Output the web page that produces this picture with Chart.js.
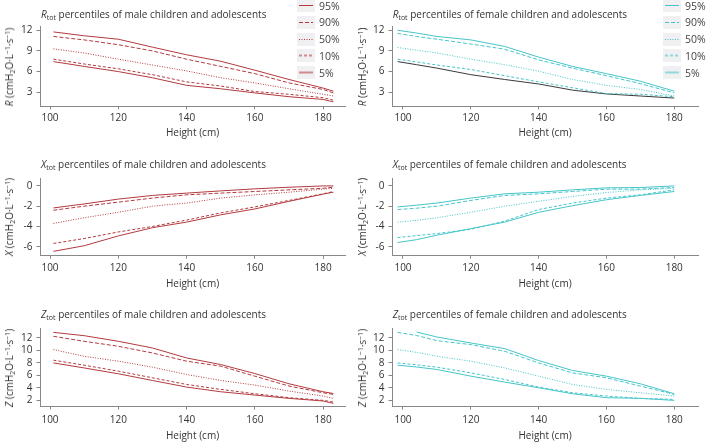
<!DOCTYPE html>
<html>
<head>
<meta charset="utf-8">
<script src="https://cdn.jsdelivr.net/npm/chart.js@4"></script>
<style>
  body { margin: 0; width: 706px; height: 445px; overflow: hidden; position: relative; background: #fff;
         font-family: "Open Sans", sans-serif; color: #333; }
  canvas { position: absolute; }
  .ttl { position: absolute; font-size: 10px; white-space: nowrap; line-height: 1; transform: translateY(-50%); }
  .ttl sub { font-size: 7px; vertical-align: -2px; }
  .yt { position: absolute; font-size: 10px; white-space: nowrap; line-height: 1;
        transform: translate(-50%, -50%) rotate(-90deg); }
  .yt sub, .yt sup { font-size: 7px; }
  .yt sub { vertical-align: -2px; }
  .yt sup { vertical-align: 3px; }
  .leg { position: absolute; font-size: 10.5px; color: #444; }
  .leg div { position: absolute; white-space: nowrap; display: flex; align-items: center; }
  .leg svg { background: #f0f0f2; margin-right: 4px; }
</style>
</head>
<body>
<script>
// DATA
const maleHeights = [101, 110, 120, 130, 140, 150, 160, 170, 180, 183];
const femaleHeights = [98.4, 104, 110, 120, 130, 140, 150, 160, 170, 180];
const percentiles = ["95%", "90%", "50%", "10%", "5%"];

const maleR95 = [11.76, 11.2, 10.7, 9.55, 8.44, 7.5, 6.2, 4.85, 3.6, 3.15];
const maleR90 = [11.1, 10.6, 9.9, 9.0, 7.8, 6.75, 5.7, 4.35, 3.4, 2.9];
const maleR50 = [9.3, 8.7, 7.8, 6.95, 6.1, 5.1, 4.35, 3.5, 2.7, 2.45];
const maleR10 = [7.8, 7.1, 6.4, 5.55, 4.5, 3.9, 3.1, 2.7, 2.2, 1.85];
const maleR5 = [7.45, 6.75, 6.0, 5.1, 4.0, 3.5, 2.9, 2.35, 1.95, 1.6];

const maleX95 = [-2.17, -1.78, -1.3, -0.94, -0.71, -0.49, -0.29, -0.13, 0, 0];
const maleX90 = [-2.4, -2.0, -1.6, -1.2, -0.88, -0.71, -0.55, -0.39, -0.23, -0.13];
const maleX50 = [-3.7, -3.14, -2.6, -2.0, -1.69, -1.2, -0.88, -0.62, -0.32, -0.23];
const maleX10 = [-5.67, -5.19, -4.54, -4.0, -3.37, -2.66, -2.07, -1.43, -0.78, -0.55];
const maleX5 = [-6.45, -5.9, -4.93, -4.12, -3.57, -2.85, -2.27, -1.52, -0.81, -0.62];

const maleZ95 = [12.9, 12.37, 11.47, 10.4, 8.8, 7.74, 6.3, 4.66, 3.38, 3.1];
const maleZ90 = [12.27, 11.47, 10.67, 9.6, 8.28, 7.48, 5.88, 4.29, 3.22, 2.96];
const maleZ50 = [10.14, 9.07, 8.28, 7.32, 6.15, 5.19, 4.45, 3.49, 2.69, 2.32];
const maleZ10 = [8.44, 7.64, 6.68, 5.62, 4.55, 3.76, 3.06, 2.43, 2.0, 1.73];
const maleZ5 = [8.0, 7.2, 6.26, 5.19, 4.13, 3.38, 2.85, 2.32, 1.9, 1.52];

const femaleR95 = [12.0, 11.6, 11.1, 10.6, 9.65, 8.1, 6.75, 5.7, 4.6, 3.15];
const femaleR90 = [11.55, 11.1, 10.7, 10.0, 9.25, 7.7, 6.5, 5.4, 4.25, 2.9];
const femaleR50 = [9.5, 9.1, 8.7, 7.8, 7.0, 6.05, 4.85, 4.0, 3.4, 2.45];
const femaleR10 = [7.8, 7.4, 6.95, 6.3, 5.4, 4.5, 3.65, 2.8, 2.7, 2.35];
const femaleR5 = [7.45, 7.0, 6.5, 5.55, 4.85, 4.2, 3.3, 2.75, 2.45, 2.15];

const femaleX95 = [-2.07, -1.9, -1.69, -1.2, -0.78, -0.62, -0.39, -0.19, -0.16, 0];
const femaleX90 = [-2.33, -2.2, -2.0, -1.43, -0.94, -0.78, -0.55, -0.32, -0.32, -0.16];
const femaleX50 = [-3.57, -3.4, -3.14, -2.6, -2.0, -1.52, -1.04, -0.65, -0.39, -0.23];
const femaleX10 = [-5.09, -4.9, -4.7, -4.28, -3.47, -2.33, -1.69, -1.2, -0.88, -0.39];
const femaleX5 = [-5.58, -5.3, -4.86, -4.21, -3.57, -2.6, -1.95, -1.36, -0.94, -0.55];

const femaleZ95 = [null, 12.96, 12.16, 11.2, 10.3, 8.38, 6.79, 5.88, 4.66, 3.06];
const femaleZ90 = [12.9, 12.4, 11.57, 10.94, 9.87, 8.0, 6.4, 5.62, 4.29, 2.96];
const femaleZ50 = [10.14, 9.7, 9.07, 8.28, 7.21, 5.88, 4.55, 3.76, 3.22, 2.69];
const femaleZ10 = [8.0, 7.7, 7.32, 6.41, 5.35, 4.13, 3.22, 2.69, 2.32, 2.16];
const femaleZ5 = [7.64, 7.35, 6.95, 5.88, 4.93, 4.02, 3.06, 2.43, 2.32, 2.0];

const heightTicks = [100, 120, 140, 160, 180];
const rTicks = [3, 6, 9, 12];
const xTicks = [-6, -4, -2, 0];
const zTicks = [2, 4, 6, 8, 10, 12];

// STYLE
const maleColor = "#b23a3f";
const femaleColor = "#45c5c9";
const darkColor = "#3a3a3a";
const dashes = [[], [4, 2], [1, 1.5], [3, 2], []];
const legendWidths = [1, 1, 1, 2, 2];
const legendAlpha = [1, 1, 1, 0.55, 0.55];

Chart.defaults.font.family = "'Open Sans', sans-serif";
Chart.defaults.font.size = 10;
Chart.defaults.color = "#333";

const axisGrey = "#888";

function makePanel(p) {
  const canvas = document.createElement("canvas");
  const padTop = 10;
  const xh = p.xTitleOff + 8;
  const h = p.axis - p.top + padTop + xh;
  canvas.width = p.right + 5 - p.left + p.yw;
  canvas.height = h;
  canvas.style.left = p.left - p.yw + "px";
  canvas.style.top = p.top - padTop + "px";
  document.body.append(canvas);

  const datasets = p.series.map((s, i) => ({
    label: percentiles[i],
    data: s,
    borderColor: p.colors ? p.colors[i] : p.color,
    borderWidth: 1,
    borderDash: dashes[i],
    pointRadius: 0,
    fill: false,
    tension: 0,
    spanGaps: false,
  }));

  new Chart(canvas.getContext("2d"), {
    type: "line",
    data: { labels: p.heights, datasets },
    options: {
      responsive: false,
      animation: false,
      layout: { padding: { top: padTop, right: 5, left: 0, bottom: 0 } },
      plugins: { legend: { display: false }, tooltip: { enabled: false } },
      scales: {
        x: {
          type: "linear",
          min: p.xmin,
          max: p.xmax,
          afterBuildTicks: (s) => { s.ticks = heightTicks.map((v) => ({ value: v })); },
          afterFit: (s) => { s.height = xh; },
          grid: { drawOnChartArea: false, drawTicks: true, tickLength: 3, color: axisGrey },
          border: { display: true, color: axisGrey, width: 1 },
          ticks: { padding: p.xPad, maxRotation: 0, color: "#333" },
          title: { display: true, text: "Height (cm)", padding: { top: 0, bottom: 2 }, color: "#333" },
        },
        y: {
          min: p.ymin,
          max: p.ymax,
          afterBuildTicks: (s) => { s.ticks = p.ticks.map((v) => ({ value: v })); },
          afterFit: (s) => { s.width = p.yw; },
          grid: { drawOnChartArea: false, drawTicks: true, tickLength: 3.5, color: axisGrey },
          border: { display: true, color: axisGrey, width: 1 },
          ticks: { padding: 4, color: "#333" },
        },
      },
    },
  });

  const t = document.createElement("div");
  t.className = "ttl";
  t.style.left = p.left + 1 + "px";
  t.style.top = p.titleY + "px";
  t.innerHTML = p.title;
  document.body.append(t);

  const yt = document.createElement("div");
  yt.className = "yt";
  yt.style.left = p.ytX + "px";
  yt.style.top = (p.top + p.axis) / 2 + "px";
  yt.innerHTML = p.yTitle;
  document.body.append(yt);
}

function makeLegend(x, color) {
  const leg = document.createElement("div");
  leg.className = "leg";
  percentiles.forEach((lab, i) => {
    const row = document.createElement("div");
    row.style.left = x + "px";
    row.style.top = 5.7 + i * 16.75 - 7 + "px";
    row.style.height = "14px";
    const dash = dashes[i].join(" ");
    row.innerHTML =
      `<svg width="18" height="13"><line x1="2" y1="6.5" x2="16" y2="6.5" stroke="${color}" ` +
      `stroke-width="${legendWidths[i]}" stroke-opacity="${legendAlpha[i]}" stroke-dasharray="${dash}"/></svg>` +
      `<span>${lab}</span>`;
    leg.append(row);
  });
  document.body.append(leg);
}

const sub = (t) => `<sub>${t}</sub>`;
const unit = "(cmH" + sub("2") + "O·L<sup>−1</sup>·s<sup>−1</sup>)";
const male = { left: 40, right: 345, yw: 40, xmin: 97.07, xmax: 186.4, heights: maleHeights, color: maleColor, ytX: 10 };
const female = { left: 391.7, right: 698, yw: 40, xmin: 96.76, xmax: 187, heights: femaleHeights, color: femaleColor, ytX: 363 };
const rowR = { top: 26, axis: 107, ymin: 0.94, ymax: 12.62, ticks: rTicks, xPad: 3, xTitleOff: 26.6, titleY: 15 };
const rowX = { top: 178, axis: 256.7, ymin: -6.88, ymax: 0.78, ticks: xTicks, xPad: 3, xTitleOff: 28.3, titleY: 165 };
const rowZ = { top: 328.3, axis: 407.3, ymin: 1.0, ymax: 13.6, ticks: zTicks, xPad: 5, xTitleOff: 29.4, titleY: 315 };

makePanel({ ...male, ...rowR, series: [maleR95, maleR90, maleR50, maleR10, maleR5],
  title: "<i>R</i>" + sub("tot") + " percentiles of male children and adolescents", yTitle: "<i>R</i> " + unit });
makePanel({ ...female, ...rowR, series: [femaleR95, femaleR90, femaleR50, femaleR10, femaleR5],
  colors: [femaleColor, femaleColor, femaleColor, femaleColor, darkColor],
  title: "<i>R</i>" + sub("tot") + " percentiles of female children and adolescents", yTitle: "<i>R</i> " + unit });
makePanel({ ...male, ...rowX, series: [maleX95, maleX90, maleX50, maleX10, maleX5],
  title: "<i>X</i>" + sub("tot") + " percentiles of male children and adolescents", yTitle: "<i>X</i> " + unit });
makePanel({ ...female, ...rowX, series: [femaleX95, femaleX90, femaleX50, femaleX10, femaleX5],
  title: "<i>X</i>" + sub("tot") + " percentiles of female children and adolescents", yTitle: "<i>X</i> " + unit });
makePanel({ ...male, ...rowZ, series: [maleZ95, maleZ90, maleZ50, maleZ10, maleZ5],
  title: "<i>Z</i>" + sub("tot") + " percentiles of male children and adolescents", yTitle: "<i>Z</i> " + unit });
makePanel({ ...female, ...rowZ, series: [femaleZ95, femaleZ90, femaleZ50, femaleZ10, femaleZ5],
  title: "<i>Z</i>" + sub("tot") + " percentiles of female children and adolescents", yTitle: "<i>Z</i> " + unit });

makeLegend(297, maleColor);
makeLegend(663, femaleColor);
</script>
</body>
</html>
